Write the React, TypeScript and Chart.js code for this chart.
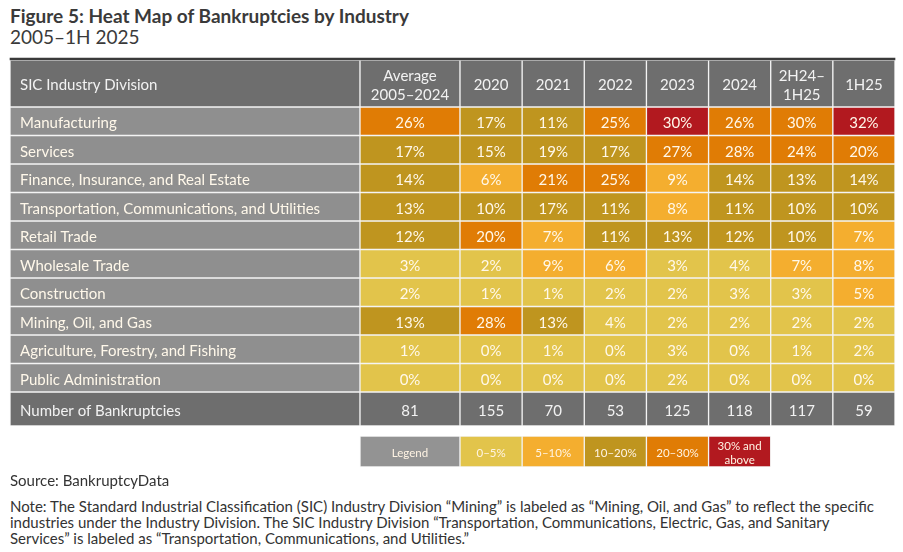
import React, { useEffect, useRef } from "react";
import { Chart, registerables } from "chart.js";

Chart.register(...registerables);

// ---------------- DATA ----------------
const industries = [
  "Manufacturing",
  "Services",
  "Finance, Insurance, and Real Estate",
  "Transportation, Communications, and Utilities",
  "Retail Trade",
  "Wholesale Trade",
  "Construction",
  "Mining, Oil, and Gas",
  "Agriculture, Forestry, and Fishing",
  "Public Administration",
];
const periods = ["Average\n2005–2024", "2020", "2021", "2022", "2023", "2024", "2H24–\n1H25", "1H25"];
const manufacturing = [26, 17, 11, 25, 30, 26, 29.6, 32];
const services = [17, 15, 19, 17, 27, 28, 24, 20];
const finance = [14, 6, 21, 25, 9, 14, 13, 14];
const transportation = [13, 10, 17, 11, 8, 11, 10, 10];
const retail = [12, 20, 7, 11, 13, 12, 10, 7];
const wholesale = [3, 2, 9, 6, 3, 4, 7, 8];
const construction = [2, 1, 1, 2, 2, 3, 3, 5];
const mining = [13, 28, 13, 4, 2, 2, 2, 2];
const agriculture = [1, 0, 1, 0, 3, 0, 1, 2];
const publicAdmin = [0, 0, 0, 0, 2, 0, 0, 0];
const shares = [manufacturing, services, finance, transportation, retail, wholesale, construction, mining, agriculture, publicAdmin];
const bankruptcies = [81, 155, 70, 53, 125, 118, 117, 59];
const binLower = [0, 5, 10, 20, 30];
const legendLabels = ["0–5%", "5–10%", "10–20%", "20–30%", "30% and\nabove"];

// ---------------- STYLE / LAYOUT ----------------
const BIN_COLORS = ["#E2C44B", "#F4AE2F", "#BF951F", "#E07C05", "#B2191F"];
const HEADER_BG = "#6E6E6E";
const LABEL_BG = "#8F8F8F";
const LEGEND_BG = "#939393";
const GRID = "#F3F3F3";

const CANVAS_W = 903;
const CANVAS_TOP = 55;
const CANVAS_H = 420;
const TABLE_LEFT = 10;
const LABEL_W = 350;
const AVG_W = 100;
const TABLE_RIGHT = 895;
const HEADER_TOP = 5;
const HEADER_H = 47;
const ROW_H = 28.5;
const TOTAL_H = 34;
const LEGEND_GAP = 10;
const LEGEND_H = 31;

const colW = (TABLE_RIGHT - (TABLE_LEFT + LABEL_W + AVG_W)) / (periods.length - 1);
const colEdges: number[] = [TABLE_LEFT, TABLE_LEFT + LABEL_W, TABLE_LEFT + LABEL_W + AVG_W];
for (let i = 1; i < periods.length; i++) colEdges.push(colEdges[2] + i * colW);

function binColor(v: number) {
  let idx = 0;
  binLower.forEach((b, i) => {
    if (v >= b) idx = i;
  });
  return BIN_COLORS[idx];
}

const FONT = "Lato, 'Noto Sans', sans-serif";

const cellTextPlugin = {
  id: "cellText",
  afterDatasetsDraw(chart: any) {
    const ctx = chart.ctx as CanvasRenderingContext2D;
    chart.data.datasets.forEach((ds: any, di: number) => {
      const texts: string[] | undefined = ds.cellTexts;
      if (!texts) return;
      const meta = chart.getDatasetMeta(di);
      meta.data.forEach((el: any, i: number) => {
        const t = texts[i];
        if (!t) return;
        const p = el.getProps(["x", "y", "base"], true);
        const left = Math.min(p.x, p.base);
        const right = Math.max(p.x, p.base);
        const lines = t.split("\n");
        const size = ds.cellFontSize || 15;
        const lh = ds.cellLineHeight || 19;
        ctx.save();
        ctx.font = `${ds.cellFontWeight || "normal"} ${size}px ${FONT}`;
        ctx.fillStyle = ds.cellColor || "#FFF8EA";
        ctx.textBaseline = "middle";
        const leftAlign = ds.firstLeft && i === 0;
        ctx.textAlign = leftAlign ? "left" : "center";
        const tx = leftAlign ? left + 10 : (left + right) / 2;
        lines.forEach((ln, li) => {
          const ty = p.y + (li - (lines.length - 1) / 2) * lh + 2;
          ctx.fillText(ln, tx, ty);
        });
        ctx.restore();
      });
    });
  },
};

function rowCells(n: number) {
  const out: { x: [number, number]; y: number }[] = [];
  for (let i = 0; i < n; i++) out.push({ x: [colEdges[i], colEdges[i + 1]], y: 0 });
  return out;
}

function buildDatasets() {
  const datasets: any[] = [];
  const base = {
    borderColor: GRID,
    borderWidth: 1,
    borderSkipped: false,
    grouped: false,
  };
  // top rule
  datasets.push({
    data: [{ x: [TABLE_LEFT, TABLE_RIGHT], y: HEADER_TOP - 1 }],
    backgroundColor: "#3A3A3A",
    borderWidth: 0,
    barThickness: 2,
    grouped: false,
  });
  // header
  const headerTexts = ["SIC Industry Division", ...periods];
  datasets.push({
    ...base,
    data: rowCells(headerTexts.length).map((c) => ({ ...c, y: HEADER_TOP + HEADER_H / 2 })),
    backgroundColor: headerTexts.map(() => HEADER_BG),
    barThickness: HEADER_H,
    cellTexts: headerTexts,
    cellColor: "#F2F2F2",
    firstLeft: true,
  });
  // industry rows
  industries.forEach((name, r) => {
    const vals = shares[r];
    const yc = HEADER_TOP + HEADER_H + r * ROW_H + ROW_H / 2;
    datasets.push({
      ...base,
      data: rowCells(vals.length + 1).map((c) => ({ ...c, y: yc })),
      backgroundColor: [LABEL_BG, ...vals.map(binColor)],
      barThickness: ROW_H,
      cellTexts: [name, ...vals.map((v) => `${Math.round(v)}%`)],
      firstLeft: true,
    });
  });
  // totals row
  const totalTop = HEADER_TOP + HEADER_H + industries.length * ROW_H;
  datasets.push({
    ...base,
    data: rowCells(bankruptcies.length + 1).map((c) => ({ ...c, y: totalTop + TOTAL_H / 2 })),
    backgroundColor: [HEADER_BG, ...bankruptcies.map(() => HEADER_BG)],
    barThickness: TOTAL_H,
    cellTexts: ["Number of Bankruptcies", ...bankruptcies.map((v) => String(v))],
    cellColor: "#F2F2F2",
    firstLeft: true,
  });
  // legend row
  const legTop = totalTop + TOTAL_H + LEGEND_GAP;
  const legCells = [];
  for (let i = 0; i <= legendLabels.length; i++)
    legCells.push({ x: [colEdges[i + 1], colEdges[i + 2]], y: legTop + LEGEND_H / 2 });
  datasets.push({
    ...base,
    data: legCells,
    backgroundColor: [LEGEND_BG, ...BIN_COLORS],
    barThickness: LEGEND_H,
    cellTexts: ["Legend", ...legendLabels],
    cellFontSize: 11.5,
    cellLineHeight: 14,
    cellColor: "#FFF4E4",
  });
  return datasets;
}

export default function App() {
  const ref = useRef<HTMLCanvasElement | null>(null);
  useEffect(() => {
    if (!ref.current) return;
    const chart = new Chart(ref.current, {
      type: "bar",
      data: { datasets: buildDatasets() },
      options: {
        indexAxis: "y",
        animation: false,
        responsive: false,
        events: [],
        layout: { padding: 0 },
        scales: {
          x: { type: "linear", min: 0, max: CANVAS_W, display: false, offset: false, grace: 0 },
          y: { type: "linear", min: 0, max: CANVAS_H, reverse: true, display: false, offset: false, grace: 0 },
        },
        plugins: { legend: { display: false }, tooltip: { enabled: false }, title: { display: false } },
      } as any,
      plugins: [cellTextPlugin],
    });
    return () => chart.destroy();
  }, []);

  const textColor = "#333333";
  return (
    <div style={{ position: "absolute", left: 0, top: 0, width: 903, height: 552, background: "#fff", overflow: "hidden", fontFamily: FONT, color: textColor }}>
      <div style={{ position: "absolute", left: 10, top: 4, fontSize: 19, fontWeight: 700, whiteSpace: "nowrap", color: "#3A3A3A" }}>
        Figure 5: Heat Map of Bankruptcies by Industry
      </div>
      <div style={{ position: "absolute", left: 10, top: 25, fontSize: 19, whiteSpace: "nowrap", color: "#3A3A3A" }}>2005–1H 2025</div>
      <canvas ref={ref} width={CANVAS_W} height={CANVAS_H} style={{ position: "absolute", left: 0, top: CANVAS_TOP, width: CANVAS_W, height: CANVAS_H }} />
      <div style={{ position: "absolute", left: 10, top: 471, fontSize: 15, whiteSpace: "nowrap" }}>Source: BankruptcyData</div>
      <div style={{ position: "absolute", left: 10, top: 498, fontSize: 15, lineHeight: "16px", whiteSpace: "nowrap" }}>
        Note: The Standard Industrial Classification (SIC) Industry Division “Mining” is labeled as “Mining, Oil, and Gas” to reflect the specific
        <br />
        industries under the Industry Division. The SIC Industry Division “Transportation, Communications, Electric, Gas, and Sanitary
        <br />
        Services” is labeled as “Transportation, Communications, and Utilities.”
      </div>
    </div>
  );
}
